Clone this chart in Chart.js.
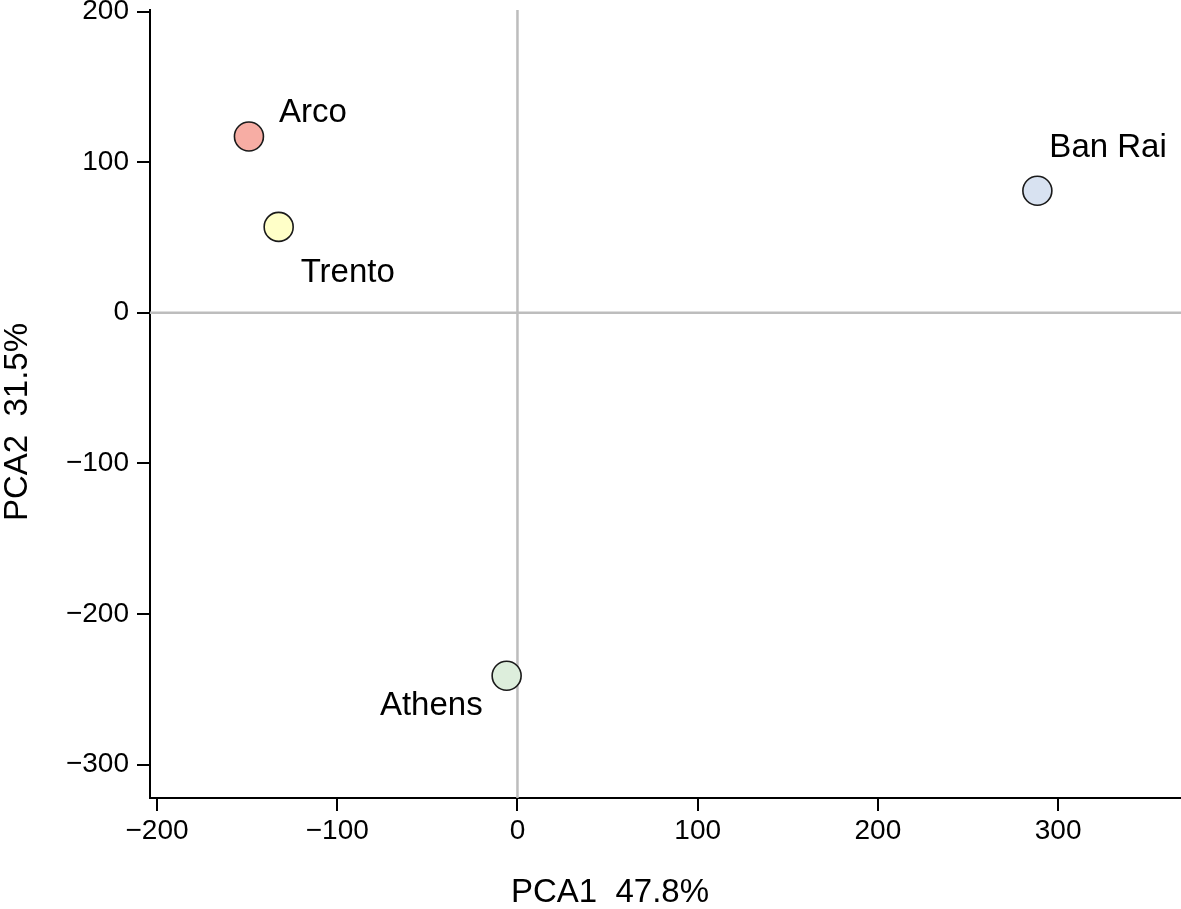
<!DOCTYPE html>
<html>
<head>
<meta charset="utf-8">
<style>
  html, body { margin: 0; padding: 0; background: #ffffff; }
  #wrap { width: 1181px; height: 909px; }
</style>
<script src="https://cdn.jsdelivr.net/npm/chart.js@4.4.1/dist/chart.umd.min.js"></script>
</head>
<body>
<div id="wrap"><canvas id="c" width="1181" height="909"></canvas></div>
<script>
// ---- data ----
const sites = ['Arco', 'Trento', 'Ban Rai', 'Athens'];
const pca1 = [-149, -132.5, 288.5, -6];
const pca2 = [117, 57, 81, -241];
const xTickValues = [-200, -100, 0, 100, 200, 300];
const xTickLabels = ['\u2212200', '\u2212100', '0', '100', '200', '300'];
const yTickValues = [-300, -200, -100, 0, 100, 200];
const yTickLabels = ['\u2212300', '\u2212200', '\u2212100', '0', '100', '200'];
const xTitle = 'PCA1  47.8%';
const yTitle = 'PCA2  31.5%';

// ---- styles ----
const FONT = '"Liberation Sans", Arial, Helvetica, sans-serif';
const pointColors = ['#F7ADA4', '#FFFFC8', '#D8E2F1', '#DDEEDC'];
const labelPlacement = [
  { dx: 30, dy: -15, align: 'left' },
  { dx: 22, dy: 55, align: 'left' },
  { dx: 12, dy: -34, align: 'left' },
  { dx: -24, dy: 39, align: 'right' }
];

const points = sites.map((s, i) => ({ x: pca1[i], y: pca2[i] }));

const zeroLines = {
  id: 'zeroLines',
  beforeDatasetsDraw(chart) {
    const { ctx, chartArea: a, scales } = chart;
    const x0 = scales.x.getPixelForValue(0);
    const y0 = scales.y.getPixelForValue(0);
    ctx.save();
    ctx.strokeStyle = '#bdbdbd';
    ctx.lineWidth = 2.5;
    ctx.beginPath();
    ctx.moveTo(x0, a.top);
    ctx.lineTo(x0, a.bottom);
    ctx.moveTo(a.left, y0);
    ctx.lineTo(a.right, y0);
    ctx.stroke();
    ctx.restore();
  }
};

const pointLabels = {
  id: 'pointLabels',
  afterDatasetsDraw(chart) {
    const { ctx } = chart;
    const meta = chart.getDatasetMeta(0);
    ctx.save();
    ctx.fillStyle = '#000';
    ctx.font = '33px ' + FONT;
    ctx.textBaseline = 'alphabetic';
    meta.data.forEach((el, i) => {
      const p = labelPlacement[i];
      ctx.textAlign = p.align;
      ctx.fillText(sites[i], el.x + p.dx, el.y + p.dy);
    });
    ctx.restore();
  }
};

const axisTitles = {
  id: 'axisTitles',
  afterDraw(chart) {
    const { ctx } = chart;
    ctx.save();
    ctx.fillStyle = '#000';
    ctx.font = '33px ' + FONT;
    ctx.textAlign = 'center';
    ctx.textBaseline = 'middle';
    ctx.fillText(xTitle, 610, 893);
    ctx.translate(18, 422);
    ctx.rotate(-Math.PI / 2);
    ctx.fillText(yTitle, 0, 0);
    ctx.restore();
  }
};

function zeroPad(scale) {
  scale.paddingTop = 0; scale.paddingBottom = 0;
  scale.paddingLeft = 0; scale.paddingRight = 0;
}

new Chart(document.getElementById('c'), {
  type: 'scatter',
  data: {
    datasets: [{
      data: points,
      backgroundColor: pointColors,
      borderColor: '#1a1a1a',
      borderWidth: 1.6,
      pointRadius: 14.5,
      pointHoverRadius: 14.5,
      clip: false
    }]
  },
  options: {
    responsive: false,
    devicePixelRatio: 1,
    animation: false,
    layout: { autoPadding: false, padding: { top: 10, right: 0, left: 0, bottom: 0 } },
    plugins: { legend: { display: false }, tooltip: { enabled: false } },
    scales: {
      x: {
        type: 'linear',
        min: -203.9,
        max: 368.2,
        afterBuildTicks: s => { s.ticks = xTickValues.map(v => ({ value: v })); },
        afterFit: s => { s.height = 111; zeroPad(s); },
        border: { display: true, color: '#000', width: 2 },
        grid: { drawOnChartArea: false, drawTicks: true, tickLength: 13, color: '#000', lineWidth: 2 },
        ticks: {
          autoSkip: false,
          maxRotation: 0,
          padding: 3,
          color: '#000',
          font: { family: FONT, size: 28 },
          callback: (v, i) => xTickLabels[i]
        }
      },
      y: {
        type: 'linear',
        min: -322.2,
        max: 201,
        afterBuildTicks: s => { s.ticks = yTickValues.map(v => ({ value: v })); },
        afterFit: s => { s.width = 150; zeroPad(s); },
        border: { display: true, color: '#000', width: 2 },
        grid: { drawOnChartArea: false, drawTicks: true, tickLength: 13, color: '#000', lineWidth: 2 },
        ticks: {
          autoSkip: false,
          padding: 8,
          color: '#000',
          font: { family: FONT, size: 28 },
          callback: (v, i) => yTickLabels[i]
        }
      }
    }
  },
  plugins: [zeroLines, pointLabels, axisTitles]
});
</script>
</body>
</html>
